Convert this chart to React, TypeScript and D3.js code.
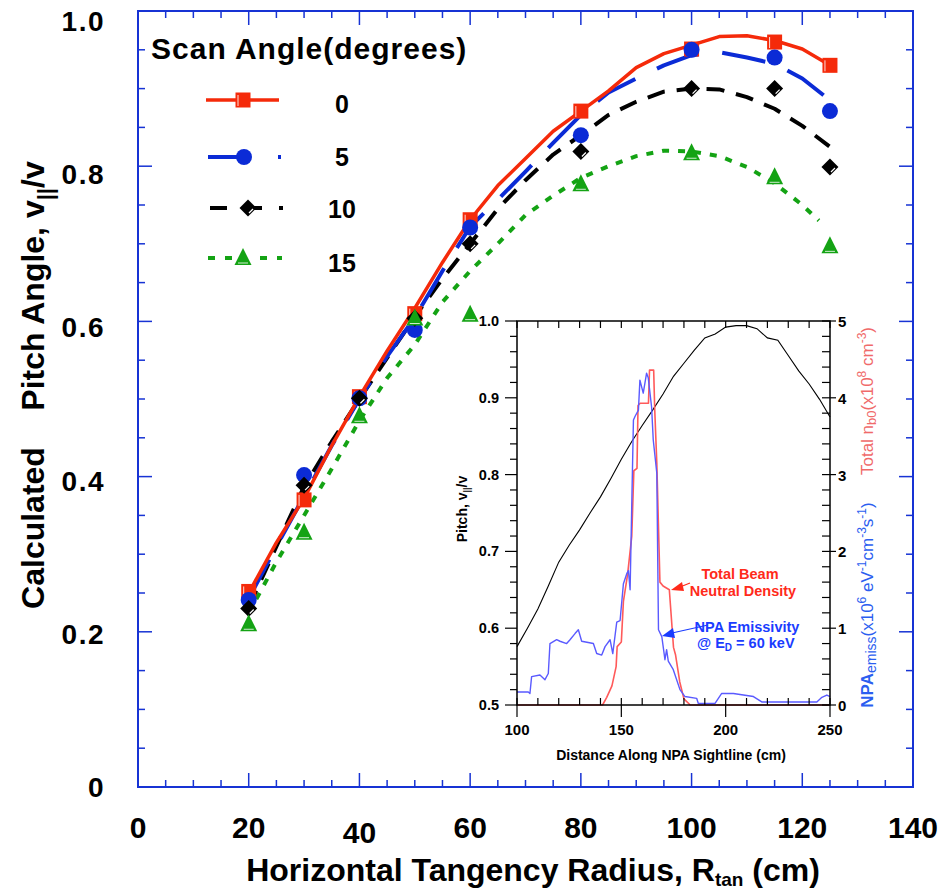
import React from 'react';
import * as d3 from 'd3';

// ---------- main chart data ----------
const RTAN = [20, 30, 40, 50, 60, 80, 100, 115, 125];
const PITCH_0 = [0.252, 0.37, 0.503, 0.61, 0.731, 0.871, 0.951, 0.96, 0.93];
const PITCH_5 = [0.241, 0.402, 0.501, 0.589, 0.721, 0.84, 0.95, 0.94, 0.871];
const PITCH_10 = [0.23, 0.389, 0.501, 0.604, 0.7, 0.819, 0.9, 0.9, 0.799];
const PITCH_15 = [0.211, 0.329, 0.479, 0.605, 0.61, 0.778, 0.818, 0.787, 0.698];

const CURVE_R = [20, 25, 30, 35, 40, 45, 50, 55, 60, 65, 70, 75, 80, 85, 90, 95, 100, 105, 110, 115, 120, 125];
const CURVE_0 = [0.25, 0.315, 0.372, 0.44, 0.503, 0.562, 0.617, 0.676, 0.731, 0.775, 0.81, 0.845, 0.871, 0.897, 0.927, 0.945, 0.956, 0.967, 0.968, 0.962, 0.951, 0.93];
const CURVE_5 = [0.243, 0.31, 0.375, 0.44, 0.5, 0.555, 0.605, 0.665, 0.722, 0.757, 0.793, 0.83, 0.866, 0.895, 0.913, 0.93, 0.943, 0.947, 0.94, 0.932, 0.913, 0.885];
const CURVE_10 = [0.232, 0.31, 0.387, 0.445, 0.5, 0.553, 0.606, 0.655, 0.7, 0.745, 0.782, 0.815, 0.84, 0.866, 0.883, 0.896, 0.9, 0.899, 0.889, 0.874, 0.852, 0.825];
const CURVE_R15 = [20, 25, 30, 35, 40, 45, 50, 55, 60, 65, 70, 75, 80, 85, 90, 95, 100, 105, 110, 115, 120, 123];
const CURVE_15 = [0.224, 0.29, 0.35, 0.41, 0.472, 0.527, 0.57, 0.625, 0.665, 0.7, 0.737, 0.762, 0.785, 0.8, 0.813, 0.82, 0.819, 0.813, 0.799, 0.778, 0.75, 0.73];

const SCAN_ANGLES = ['0', '5', '10', '15'];
const X_TICKS = [0, 20, 40, 60, 80, 100, 120, 140];
const Y_TICKS = [0, 0.2, 0.4, 0.6, 0.8, 1.0];

// ---------- inset data ----------
const DIST = [100, 105, 110, 115, 120, 125, 130, 135, 140, 145, 150, 155, 160, 165, 170, 175, 180, 185, 190, 195, 200, 205, 210, 215, 220, 225, 230, 235, 240, 245, 250];
const PITCH_SIGHT = [0.576, 0.6, 0.625, 0.655, 0.686, 0.708, 0.728, 0.75, 0.771, 0.795, 0.82, 0.843, 0.864, 0.884, 0.905, 0.928, 0.945, 0.962, 0.978, 0.983, 0.992, 0.994, 0.994, 0.99, 0.978, 0.975, 0.955, 0.935, 0.918, 0.898, 0.875];
const NB0_X = [100, 141, 143, 145.5, 147.5, 148, 150, 151, 153, 155, 156, 157.5, 158, 159, 163, 163.5, 165.5, 166, 167, 168.5, 170, 173, 175, 176, 178, 180, 183, 250];
const NB0 = [0, 0, 0.1, 0.25, 0.5, 0.76, 0.82, 1.35, 1.7, 2.2, 3.05, 3.08, 3.9, 3.93, 3.93, 4.36, 4.36, 3.85, 3.15, 1.6, 1.55, 1.5, 0.75, 0.65, 0.3, 0.08, 0, 0];
const EMISS_X = [100, 105.4, 106.2, 107, 111, 113.4, 115, 115.8, 119, 120.6, 123.8, 125.4, 127.8, 129.4, 131, 136.6, 138.2, 140.6, 142.2, 144.6, 145.9, 147.8, 149.4, 151, 152.6, 153.4, 154.2, 155.8, 156.6, 158.2, 158.9, 160.5, 162.1, 162.9, 164.5, 165.3, 167, 167.8, 169.4, 170.9, 171.7, 172.5, 174.9, 178.1, 180.5, 186.1, 186.9, 194.9, 198.1, 203.7, 213.3, 217.3, 232.5, 243.7, 246.1, 248.5, 250];
const EMISS = [0.17, 0.17, 0.15, 0.37, 0.39, 0.33, 0.41, 0.8, 0.85, 0.83, 0.8, 0.85, 0.93, 0.98, 0.83, 0.8, 0.67, 0.65, 0.76, 0.85, 0.67, 1.08, 1.1, 1.58, 1.71, 1.75, 1.5, 3.71, 3.76, 3.84, 4.23, 4.06, 4.32, 4.26, 3.88, 3.45, 3.02, 0.98, 0.89, 0.59, 0.72, 0.57, 0.46, 0.2, 0.11, 0.087, 0.02, 0.02, 0.15, 0.15, 0.11, 0.04, 0.04, 0.04, 0.1, 0.13, 0.11];
const INSET_X_TICKS = [100, 150, 200, 250];
const INSET_L_TICKS = [0.5, 0.6, 0.7, 0.8, 0.9, 1.0];
const INSET_R_TICKS = [0, 1, 2, 3, 4, 5];

const FONT = '"Liberation Sans", Arial, Helvetica, sans-serif';
const AXIS_BLUE = '#1733d4';
const RED = '#f52a0a';
const BLUE = '#0b2bd6';
const BLACK = '#000000';
const GREEN = '#14a314';

type MarkerKind = 'square' | 'circle' | 'diamond' | 'triangle';

function Marker({ kind, x, y, color }: { kind: MarkerKind; x: number; y: number; color: string }) {
  if (kind === 'square') {
    return (
      <g>
        <rect x={x - 7.5} y={y - 7.5} width={15} height={15} fill={color} />
        <line x1={x - 5} y1={y - 5} x2={x - 5} y2={y + 6} stroke="#ffffff" strokeWidth={1} opacity={0.85} />
      </g>
    );
  }
  if (kind === 'circle') {
    return <circle cx={x} cy={y} r={8} fill={color} />;
  }
  if (kind === 'diamond') {
    const h = 8.5;
    return (
      <g>
        <polygon points={`${x},${y - h} ${x + h},${y} ${x},${y + h} ${x - h},${y}`} fill={color} />
        <line x1={x + 1} y1={y + 5} x2={x + 5} y2={y + 1} stroke="#ffffff" strokeWidth={1.2} />
      </g>
    );
  }
  const w = 17, hh = 16;
  return (
    <g>
      <polygon points={`${x},${y - hh / 2 - 1} ${x + w / 2},${y + hh / 2} ${x - w / 2},${y + hh / 2}`} fill={color} />
      <line x1={x - 5} y1={y + hh / 2 - 2} x2={x + 5} y2={y + hh / 2 - 2} stroke="#ffffff" strokeWidth={1} opacity={0.8} />
    </g>
  );
}

export default function App() {
  // main scales
  const x = d3.scaleLinear().domain([0, 140]).range([138, 913]);
  const y = d3.scaleLinear().domain([0, 1]).range([787, 11]);

  const line = d3.line<[number, number]>().x((d) => x(d[0])).y((d) => y(d[1]));
  const zip = (a: number[], b: number[]) => a.map((v, i) => [v, b[i]] as [number, number]);

  // inset scales
  const ix = d3.scaleLinear().domain([100, 250]).range([517, 830]);
  const iyL = d3.scaleLinear().domain([0.5, 1]).range([705, 321]);
  const iyR = d3.scaleLinear().domain([0, 5]).range([705, 321]);
  const lineL = d3.line<[number, number]>().x((d) => ix(d[0])).y((d) => iyL(d[1]));
  const lineR = d3.line<[number, number]>().x((d) => ix(d[0])).y((d) => iyR(d[1]));

  const series = [
    { xs: CURVE_R15, vs: CURVE_15, color: GREEN, width: 4, dash: '7,9' },
    { xs: CURVE_R, vs: CURVE_10, color: BLACK, width: 4, dash: '18,12' },
    { xs: CURVE_R, vs: CURVE_5, color: BLUE, width: 4, dash: '44,24' },
    { xs: CURVE_R, vs: CURVE_0, color: RED, width: 3.5, dash: undefined as string | undefined },
  ];
  const markerSeries: { vs: number[]; color: string; kind: MarkerKind }[] = [
    { vs: PITCH_0, color: RED, kind: 'square' },
    { vs: PITCH_5, color: BLUE, kind: 'circle' },
    { vs: PITCH_10, color: BLACK, kind: 'diamond' },
    { vs: PITCH_15, color: GREEN, kind: 'triangle' },
  ];

  const xMinor = d3.range(0, 141, 5);
  const yMinor = d3.range(0, 21).map((i) => i * 0.05);

  const legendRows = [100, 157, 208, 258];

  const insetXMinor = d3.range(100, 251, 10);
  const insetLMinor = d3.range(0, 26).map((i) => 0.5 + i * 0.02);
  const insetRMinor = d3.range(0, 26).map((i) => i * 0.2);

  return (
    <svg width={939} height={894} style={{ position: 'absolute', left: 0, top: 0, background: '#fff' }} fontFamily={FONT}>
      <rect x={0} y={0} width={939} height={894} fill="#ffffff" />

      {/* main frame */}
      <rect x={138} y={11} width={775} height={776} fill="none" stroke={AXIS_BLUE} strokeWidth={2} />
      {xMinor.map((v) => {
        const major = v % 20 === 0;
        const len = major ? 14 : 7;
        return (
          <g key={'xt' + v}>
            <line x1={x(v)} x2={x(v)} y1={787} y2={787 - len} stroke={AXIS_BLUE} strokeWidth={1.5} />
            <line x1={x(v)} x2={x(v)} y1={11} y2={11 + len} stroke={AXIS_BLUE} strokeWidth={1.5} />
          </g>
        );
      })}
      {yMinor.map((v, i) => {
        const major = i % 4 === 0;
        const len = major ? 14 : 7;
        return (
          <g key={'yt' + i}>
            <line x1={138} x2={138 + len} y1={y(v)} y2={y(v)} stroke={AXIS_BLUE} strokeWidth={1.5} />
            <line x1={913} x2={913 - len} y1={y(v)} y2={y(v)} stroke={AXIS_BLUE} strokeWidth={1.5} />
          </g>
        );
      })}

      {/* main tick labels */}
      {X_TICKS.map((v) => (
        <text key={'xl' + v} x={x(v)} y={v === 40 ? 843 : 838} textAnchor="middle" fontSize={30} fontWeight="bold">
          {v}
        </text>
      ))}
      {Y_TICKS.map((v) => (
        <text key={'yl' + v} x={105} y={y(v) + 10 * v + 10} textAnchor="end" fontSize={28} fontWeight="bold" letterSpacing={1.5}>
          {v === 0 ? '0' : v.toFixed(1)}
        </text>
      ))}

      {/* axis titles */}
      <text x={533} y={881} textAnchor="middle" fontSize={32} fontWeight="bold">
        Horizontal Tangency Radius, R<tspan fontSize={19} dy={5}>tan</tspan>
        <tspan dy={-5}> (cm)</tspan>
      </text>
      <text transform="translate(44,528) rotate(-90)" textAnchor="middle" fontSize={32} fontWeight="bold">
        Calculated
      </text>
      <text transform="translate(44,286) rotate(-90)" textAnchor="middle" fontSize={32} fontWeight="bold">
        Pitch Angle, v<tspan fontSize={22} dy={9}>||</tspan>
        <tspan dy={-9}>/v</tspan>
      </text>

      {/* curves */}
      {series.map((s, i) => (
        <path
          key={'c' + i}
          d={line(zip(s.xs, s.vs)) || ''}
          fill="none"
          stroke={s.color}
          strokeWidth={s.width}
          strokeDasharray={s.dash}
          strokeLinejoin="round"
        />
      ))}
      {markerSeries.map((s, si) =>
        s.vs.map((v, i) => <Marker key={'m' + si + '-' + i} kind={s.kind} x={x(RTAN[i])} y={y(v)} color={s.color} />)
      )}

      {/* legend */}
      <text x={151} y={59} fontSize={30} fontWeight="bold" letterSpacing={1}>
        Scan Angle(degrees)
      </text>
      <line x1={206} x2={279} y1={legendRows[0]} y2={legendRows[0]} stroke={RED} strokeWidth={3.5} />
      <Marker kind="square" x={243} y={legendRows[0]} color={RED} />
      <line x1={208} x2={244} y1={legendRows[1]} y2={legendRows[1]} stroke={BLUE} strokeWidth={4} />
      <Marker kind="circle" x={244} y={legendRows[1]} color={BLUE} />
      <line x1={278} x2={281} y1={legendRows[1]} y2={legendRows[1]} stroke={BLUE} strokeWidth={4} />
      <line x1={210} x2={227} y1={legendRows[2]} y2={legendRows[2]} stroke={BLACK} strokeWidth={4} />
      <line x1={244} x2={262} y1={legendRows[2]} y2={legendRows[2]} stroke={BLACK} strokeWidth={4} />
      <Marker kind="diamond" x={248} y={legendRows[2]} color={BLACK} />
      <line x1={279} x2={283} y1={legendRows[2]} y2={legendRows[2]} stroke={BLACK} strokeWidth={4} />
      {[[208, 215], [225, 232], [260, 267], [277, 282]].map((seg, i) => (
        <line key={'gl' + i} x1={seg[0]} x2={seg[1]} y1={legendRows[3]} y2={legendRows[3]} stroke={GREEN} strokeWidth={4} />
      ))}
      <Marker kind="triangle" x={243} y={legendRows[3] - 1} color={GREEN} />
      {SCAN_ANGLES.map((s, i) => (
        <text key={'la' + s} x={342} y={[113, 166, 218, 272][i]} textAnchor="middle" fontSize={25} fontWeight="bold">
          {s}
        </text>
      ))}

      {/* ---------- inset ---------- */}
      <rect x={517} y={321} width={313} height={384} fill="#ffffff" stroke="none" />
      <path d={lineL(zip(DIST, PITCH_SIGHT)) || ''} fill="none" stroke="#000" strokeWidth={1.1} />
      <path d={lineR(zip(NB0_X, NB0)) || ''} fill="none" stroke="#ff5a5a" strokeWidth={1.6} strokeLinejoin="round" />
      <path d={lineR(zip(EMISS_X, EMISS)) || ''} fill="none" stroke="#5a5aff" strokeWidth={1.4} strokeLinejoin="round" />
      <rect x={517} y={321} width={313} height={384} fill="none" stroke="#000" strokeWidth={1.5} />
      {insetXMinor.map((v) => {
        const major = v % 50 === 0;
        return (
          <g key={'ixt' + v}>
            <line x1={ix(v)} x2={ix(v)} y1={705} y2={698} stroke="#000" strokeWidth={1.2} />
            {major && <line x1={ix(v)} x2={ix(v)} y1={705} y2={717} stroke="#000" strokeWidth={1.2} />}
            <line x1={ix(v)} x2={ix(v)} y1={321} y2={328} stroke="#000" strokeWidth={1.2} />
          </g>
        );
      })}
      {insetLMinor.map((v, i) => {
        const major = i % 5 === 0;
        return (
          <g key={'ilt' + i}>
            <line x1={517} x2={517 - (major ? 12 : 7)} y1={iyL(v)} y2={iyL(v)} stroke="#000" strokeWidth={1.2} />
          </g>
        );
      })}
      {insetRMinor.map((v, i) => {
        const major = i % 5 === 0;
        return (
          <g key={'irt' + i}>
            <line x1={830} x2={822} y1={iyR(v)} y2={iyR(v)} stroke="#000" strokeWidth={1.2} />
            {major && <line x1={830} x2={836} y1={iyR(v)} y2={iyR(v)} stroke="#000" strokeWidth={1.2} />}
          </g>
        );
      })}
      {INSET_X_TICKS.map((v) => (
        <text key={'ixl' + v} x={ix(v)} y={735} textAnchor="middle" fontSize={15} fontWeight="bold">
          {v}
        </text>
      ))}
      {INSET_L_TICKS.map((v) => (
        <text key={'ill' + v} x={499} y={iyL(v) + 5} textAnchor="end" fontSize={14.5} fontWeight="bold">
          {v.toFixed(1)}
        </text>
      ))}
      {INSET_R_TICKS.map((v) => (
        <text key={'irl' + v} x={838} y={iyR(v) + 6} textAnchor="start" fontSize={15} fontWeight="bold">
          {v}
        </text>
      ))}
      <text x={671} y={760} textAnchor="middle" fontSize={14} fontWeight="bold">
        Distance Along NPA Sightline (cm)
      </text>
      <text transform="translate(467,509) rotate(-90)" textAnchor="middle" fontSize={14} fontWeight="bold">
        Pitch, v<tspan fontSize={9} dy={3}>||</tspan>
        <tspan dy={-3}>/v</tspan>
      </text>
      <text transform="translate(873,401) rotate(-90)" textAnchor="middle" fontSize={17} fill="#f06a6a">
        Total n<tspan fontSize={13} dy={3}>b0</tspan>
        <tspan dy={-3}>(x10</tspan>
        <tspan fontSize={12} dy={-7}>8</tspan>
        <tspan dy={7}> cm</tspan>
        <tspan fontSize={12} dy={-7}>-3</tspan>
        <tspan dy={7}>)</tspan>
      </text>
      <text transform="translate(873,605) rotate(-90)" textAnchor="middle" fontSize={17} fill="#2b5ef0">
        <tspan fontWeight="bold">NPA</tspan>
        <tspan fontSize={14} dy={3}>emiss</tspan>
        <tspan dy={-3}>(x10</tspan>
        <tspan fontSize={12} dy={-7}>6</tspan>
        <tspan dy={7}> eV</tspan>
        <tspan fontSize={12} dy={-7}>-1</tspan>
        <tspan dy={7}>cm</tspan>
        <tspan fontSize={12} dy={-7}>-3</tspan>
        <tspan dy={7}>s</tspan>
        <tspan fontSize={12} dy={-7}>-1</tspan>
        <tspan dy={7}>)</tspan>
      </text>

      {/* annotations */}
      <text x={740} y={579} textAnchor="middle" fontSize={14.5} fontWeight="bold" fill="#ff2a1a">
        Total Beam
      </text>
      <text x={743} y={596} textAnchor="middle" fontSize={14.5} fontWeight="bold" fill="#ff2a1a">
        Neutral Density
      </text>
      <line x1={690} y1={583} x2={680} y2={587} stroke="#ff2a1a" strokeWidth={1.2} />
      <polygon points="671,590 682,582 684,591" fill="#ff2a1a" />
      <text x={747} y={632} textAnchor="middle" fontSize={14.5} fontWeight="bold" fill="#1a3cff">
        NPA Emissivity
      </text>
      <text x={697} y={648} textAnchor="start" fontSize={14.5} fontWeight="bold" fill="#1a3cff">
        @ E<tspan fontSize={10} dy={3}>D</tspan>
        <tspan dy={-3}> = 60 keV</tspan>
      </text>
      <line x1={708} y1={625} x2={672} y2={633} stroke="#1a3cff" strokeWidth={1.2} />
      <polygon points="662,636 673,628 675,638" fill="#1a3cff" />
    </svg>
  );
}
